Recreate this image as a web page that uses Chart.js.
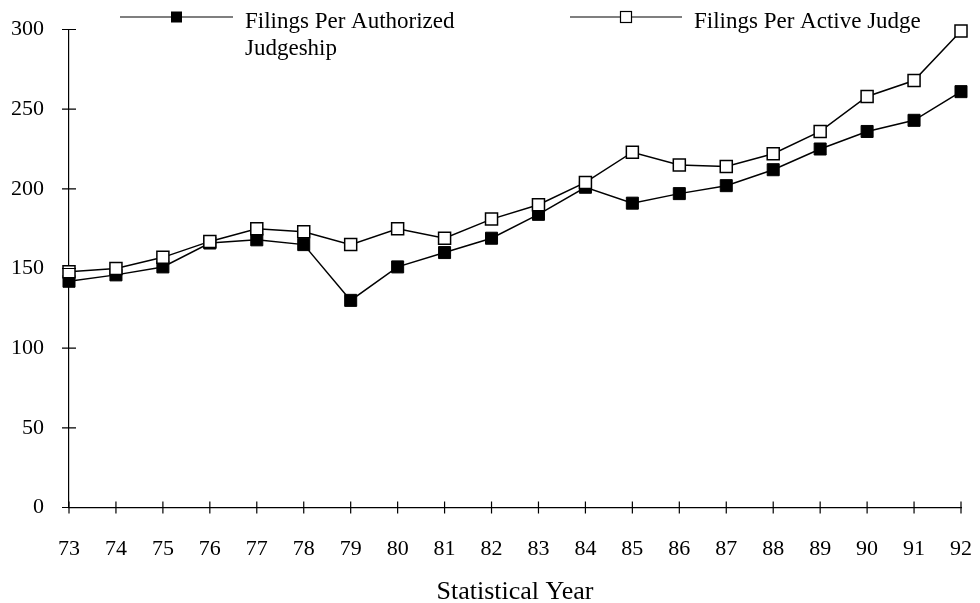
<!DOCTYPE html>
<html>
<head>
<meta charset="utf-8">
<script src="https://cdn.jsdelivr.net/npm/chart.js@4.4.1/dist/chart.umd.min.js"></script>
<style>
  html, body { margin: 0; padding: 0; background: #fff; }
  #wrap { width: 980px; height: 603px; position: relative; }
</style>
</head>
<body>
<div id="wrap"><canvas id="filingsChart"></canvas></div>
<script>
// Statistical years (x axis)
const years = ['73', '74', '75', '76', '77', '78', '79', '80', '81', '82',
               '83', '84', '85', '86', '87', '88', '89', '90', '91', '92'];

// Filings per authorized judgeship (filled squares)
const perAuthorized = [142, 146, 151, 166, 168, 165, 130, 151, 160, 169,
                       184, 201, 191, 197, 202, 212, 225, 236, 243, 261];

// Filings per active judge (open squares)
const perActive = [148, 150, 157, 167, 175, 173, 165, 175, 169, 181,
                   190, 204, 223, 215, 214, 222, 236, 258, 268, 299];

const yTicks = [0, 50, 100, 150, 200, 250, 300];

const FONT = 'Liberation Serif, Times New Roman, serif';

// tick marks that cross the axis lines, plus the legend
const axisDecor = {
    id: 'axisDecor',
    afterDraw(chart) {
        const ctx = chart.ctx;
        const xs = chart.scales.x, ys = chart.scales.y;
        const area = chart.chartArea;
        ctx.save();
        ctx.strokeStyle = '#000';
        ctx.lineWidth = 1.2;
        ctx.beginPath();
        xs.ticks.forEach((t, i) => {
            const px = xs.getPixelForTick(i);
            ctx.moveTo(px, area.bottom - 6);
            ctx.lineTo(px, area.bottom + 6);
        });
        ys.ticks.forEach((t, i) => {
            const py = ys.getPixelForTick(i);
            ctx.moveTo(area.left - 7, py);
            ctx.lineTo(area.left + 7, py);
        });
        ctx.stroke();

        // legend
        ctx.lineWidth = 1.2;
        ctx.font = '23px ' + FONT;
        ctx.fillStyle = '#000';
        ctx.textBaseline = 'alphabetic';
        const items = [
            { x0: 120, x1: 233, filled: true, lines: ['Filings Per Authorized', 'Judgeship'] },
            { x0: 570, x1: 682, filled: false, lines: ['Filings Per Active Judge'] }
        ];
        items.forEach(it => {
            const ly = 17;
            ctx.beginPath();
            ctx.moveTo(it.x0, ly);
            ctx.lineTo(it.x1, ly);
            ctx.stroke();
            const cx = (it.x0 + it.x1) / 2;
            if (it.filled) {
                ctx.fillRect(cx - 5.5, ly - 5.5, 11, 11);
            } else {
                ctx.fillStyle = '#fff';
                ctx.fillRect(cx - 5.5, ly - 5.5, 11, 11);
                ctx.fillStyle = '#000';
                ctx.strokeRect(cx - 5.5, ly - 5.5, 11, 11);
            }
            it.lines.forEach((s, k) => ctx.fillText(s, it.x1 + 12, 28 + k * 27));
        });
        ctx.restore();
    }
};

new Chart(document.getElementById('filingsChart'), {
    type: 'line',
    data: {
        labels: years,
        datasets: [{
            label: 'Filings Per Active Judge',
            data: perActive,
            borderColor: '#000',
            borderWidth: 1.5,
            pointStyle: 'rect',
            pointRadius: 8.5,
            pointBackgroundColor: '#fff',
            pointBorderColor: '#000',
            pointBorderWidth: 1.5,
            tension: 0,
            clip: false
        }, {
            label: 'Filings Per Authorized Judgeship',
            data: perAuthorized,
            borderColor: '#000',
            borderWidth: 1.5,
            pointStyle: 'rect',
            pointRadius: 8.5,
            pointBackgroundColor: '#000',
            pointBorderColor: '#000',
            pointBorderWidth: 1,
            tension: 0,
            clip: false
        }]
    },
    options: {
        responsive: true,
        maintainAspectRatio: false,
        animation: false,
        layout: { padding: { top: 29.5, right: 19, left: 0, bottom: 0 } },
        plugins: {
            legend: { display: false },
            tooltip: { enabled: false }
        },
        scales: {
            x: {
                offset: false,
                grid: { display: true, drawOnChartArea: false, drawTicks: false },
                border: { display: true, color: '#000', width: 1.2 },
                ticks: { color: '#000', font: { family: FONT, size: 22 }, padding: 29, maxRotation: 0, autoSkip: false },
                title: {
                    display: true,
                    text: 'Statistical Year',
                    color: '#000',
                    font: { family: FONT, size: 26, lineHeight: 1.0 },
                    padding: { top: 0, bottom: -2 }
                },
                afterFit(scale) {
                    scale.height = 95.5;
                    scale.paddingLeft = 0; scale.paddingRight = 0;
                }
            },
            y: {
                min: 0,
                max: 300,
                afterBuildTicks(scale) { scale.ticks = yTicks.map(v => ({ value: v })); },
                grid: { display: true, drawOnChartArea: false, drawTicks: false },
                border: { display: true, color: '#000', width: 1.2 },
                ticks: { color: '#000', font: { family: FONT, size: 22 }, padding: 25 },
                afterFit(scale) {
                    scale.width = 69;
                    scale.paddingTop = 0; scale.paddingBottom = 0;
                }
            }
        }
    },
    plugins: [axisDecor]
});
</script>
</body>
</html>
